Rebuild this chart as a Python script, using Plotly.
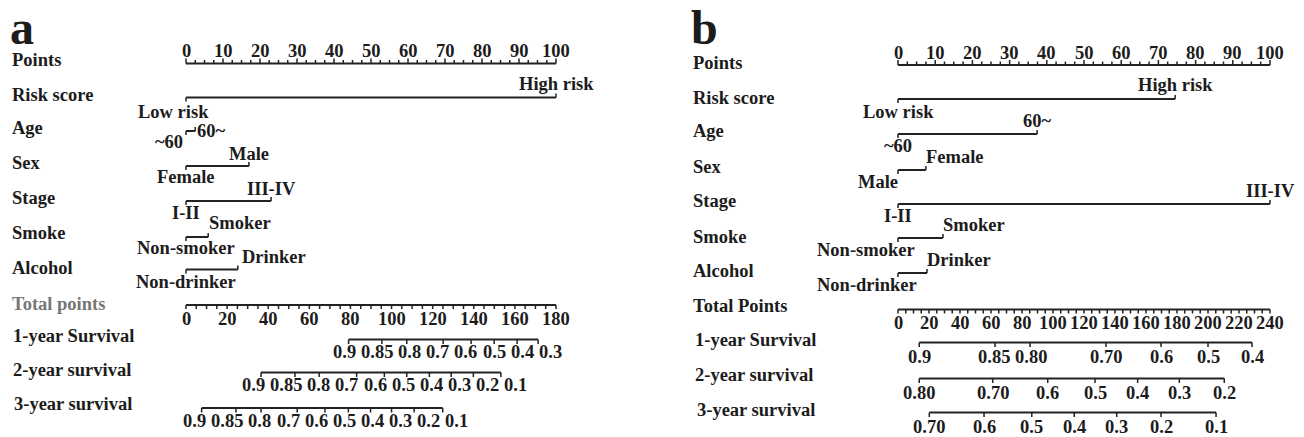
import numpy as np
import plotly.graph_objects as go

W, H = 1304, 437

# ---------------- panel a: data ----------------
A_VARS = ["Risk score", "Age", "Sex", "Stage", "Smoke", "Alcohol"]
A_LOW = ["Low risk", "~60", "Female", "I-II", "Non-smoker", "Non-drinker"]
A_HIGH = ["High risk", "60~", "Male", "III-IV", "Smoker", "Drinker"]
A_HIGH_POINTS = [100, 2.5, 17, 23, 6, 14]
A_TOTAL_MAX = 180
A_TOTAL_TICKS = list(range(0, 181, 20))
A_SURV_NAMES = ["1-year Survival", "2-year survival", "3-year survival"]
A_SURV1_PROB = ["0.9", "0.85", "0.8", "0.7", "0.6", "0.5", "0.4", "0.3"]
A_SURV1_TOTAL = [79.1, 95.3, 107.4, 125.1, 138.7, 149.9, 161.1, 171.3]
A_SURV2_PROB = ["0.9", "0.85", "0.8", "0.7", "0.6", "0.5", "0.4", "0.3", "0.2", "0.1"]
A_SURV2_TOTAL = [36.5, 53.0, 64.8, 83.0, 96.5, 107.4, 118.4, 129.0, 139.8, 153.2]
A_SURV3_PROB = ["0.9", "0.85", "0.8", "0.7", "0.6", "0.5", "0.4", "0.3", "0.2", "0.1"]
A_SURV3_TOTAL = [7.6, 24.3, 36.5, 54.1, 67.6, 79.0, 89.8, 100.0, 111.0, 124.9]

# ---------------- panel b: data ----------------
B_VARS = ["Risk score", "Age", "Sex", "Stage", "Smoke", "Alcohol"]
B_LOW = ["Low risk", "~60", "Male", "I-II", "Non-smoker", "Non-drinker"]
B_HIGH = ["High risk", "60~", "Female", "III-IV", "Smoker", "Drinker"]
B_HIGH_POINTS = [74.5, 37.4, 7.5, 100, 12.1, 7.8]
B_TOTAL_MAX = 240
B_TOTAL_TICKS = list(range(0, 241, 20))
B_SURV_NAMES = ["1-year Survival", "2-year survival", "3-year survival"]
B_SURV1_PROB = ["0.9", "0.85", "0.80", "0.70", "0.6", "0.5", "0.4"]
B_SURV1_TOTAL = [13.7, 62.6, 85.2, 134.2, 169.7, 200.0, 228.4]
B_SURV2_PROB = ["0.80", "0.70", "0.6", "0.5", "0.4", "0.3", "0.2"]
B_SURV2_TOTAL = [13.7, 61.1, 96.6, 127.1, 154.6, 181.5, 210.5]
B_SURV3_PROB = ["0.70", "0.6", "0.5", "0.4", "0.3", "0.2", "0.1"]
B_SURV3_TOTAL = [20.2, 55.5, 86.3, 113.7, 141.1, 169.7, 205.2]

POINTS_MAX = 100
POINTS_LABEL_STEP = 10
POINTS_MINOR_STEP = 2.5
TOTAL_MINOR_STEP = 5

# ---------------- styling ----------------
FONT = "Liberation Serif"
FS = 18.5
INK = "#1c1c1c"
GREY = "#777777"
PAD = 2  # annotation inner padding in px

# character widths (em) of a bold Times-like face, for label spacing
CW = {".": 0.25, "~": 0.52}


def text_width(s):
    return sum(CW.get(ch, 0.5) for ch in s) * FS


def spread(centers, widths, gap):
    """Place labels at their tick centres, pushing overlapping runs apart
    symmetrically so neighbouring labels keep a minimal gap."""
    clusters = []
    for i, (c, w) in enumerate(zip(centers, widths)):
        clusters.append([i, i, c - w / 2])
        while len(clusters) > 1:
            a, b = clusters[-2], clusters[-1]
            a_right = a[2] + sum(widths[a[0]:a[1] + 1]) + gap * (a[1] - a[0])
            if a_right + gap <= b[2]:
                break
            s, e = a[0], b[1]
            offs, x = [], 0.0
            for j in range(s, e + 1):
                offs.append(x + widths[j] / 2)
                x += widths[j] + gap
            left = float(np.mean([centers[j] - offs[j - s] for j in range(s, e + 1)]))
            clusters[-2:] = [[s, e, left]]
    pos = []
    for s, e, left in clusters:
        x = left
        for j in range(s, e + 1):
            pos.append(x + widths[j] / 2)
            x += widths[j] + gap
    return pos


PANELS = [
    dict(
        key="a", xaxis="x", yaxis="y", domain=[0.0, 0.5], px0=0, zero_px=186, full_px=556,
        letter_x=10, label_x=12,
        vars=A_VARS, low=A_LOW, high=A_HIGH, high_pts=A_HIGH_POINTS,
        total_max=A_TOTAL_MAX, total_ticks=A_TOTAL_TICKS, total_name="Total points",
        total_color=GREY,
        surv_names=A_SURV_NAMES,
        surv=[(A_SURV1_PROB, A_SURV1_TOTAL), (A_SURV2_PROB, A_SURV2_TOTAL),
              (A_SURV3_PROB, A_SURV3_TOTAL)],
        points_y=63.5, var_y=[97.5, 131, 166, 201, 237, 269.5],
        total_y=305, surv_y=[339.5, 372.5, 408],
        name_y=[60, 95, 128, 163, 197.5, 233, 267.5, 303.5, 336, 370, 404],
        name_dx=[0, 0, 0, 0, 0, 0, 0, 0, 0.5, 0.5, 1.5],
        low_anchor=["center", "right", "center", "center", "center", "center"],
        low_shift=[-13, -3, 0, 0, 0, 0],
        low_dy=[14, 11, 10.5, 11.5, 10.5, 12],
        high_anchor=["center", "left", "center", "center", "left", "left"],
        high_shift=[0, 2, 0, 0, 1, 4],
        high_dy=[-14, -0.5, -12, -12, -14, -13],
        surv_lab_dy=12.5,
    ),
    dict(
        key="b", xaxis="x2", yaxis="y2", domain=[0.5, 1.0], px0=652, zero_px=898, full_px=1270,
        letter_x=691, label_x=693,
        vars=B_VARS, low=B_LOW, high=B_HIGH, high_pts=B_HIGH_POINTS,
        total_max=B_TOTAL_MAX, total_ticks=B_TOTAL_TICKS, total_name="Total Points",
        total_color=INK,
        surv_names=B_SURV_NAMES,
        surv=[(B_SURV1_PROB, B_SURV1_TOTAL), (B_SURV2_PROB, B_SURV2_TOTAL),
              (B_SURV3_PROB, B_SURV3_TOTAL)],
        points_y=65, var_y=[99, 134, 170, 204, 238, 273],
        total_y=309.5, surv_y=[342.5, 378.5, 412.5],
        name_y=[62.5, 97.5, 130.5, 166.5, 201, 236.5, 271, 306, 340, 375, 409.5],
        name_dx=[0, 0, 0, 0, 0, 0, 0, 0, 2.5, 2.5, 3.5],
        low_anchor=["center", "center", "right", "center", "center", "center"],
        low_shift=[0, 0, 0, 0, -32, -31],
        low_dy=[13, 12, 12, 12, 12, 12],
        high_anchor=["center", "center", "left", "center", "left", "left"],
        high_shift=[0, 0, 0, 0, 0, 0],
        high_dy=[-14, -13, -13, -13, -13, -13],
        surv_lab_dy=14.5,
    ),
]

fig = go.Figure()
annotations = []
layout_axes = {}

for p in PANELS:
    scale = (p["full_px"] - p["zero_px"]) / POINTS_MAX  # px per point
    width_px = W * (p["domain"][1] - p["domain"][0])
    r0 = -(p["zero_px"] - p["px0"]) / scale
    r1 = r0 + width_px / scale
    xa = "xaxis" if p["xaxis"] == "x" else "xaxis2"
    ya = "yaxis" if p["yaxis"] == "y" else "yaxis2"
    layout_axes[xa] = dict(domain=p["domain"], range=[r0, r1], visible=False,
                           fixedrange=True, anchor=p["yaxis"])
    layout_axes[ya] = dict(domain=[0, 1], range=[H, 0], visible=False,
                           fixedrange=True, anchor=p["xaxis"])

    lines_x, lines_y = [], []
    ticks_x, ticks_y = [], []

    def seg(store_x, store_y, x0, y0, x1, y1):
        store_x += [x0, x1, None]
        store_y += [y0, y1, None]

    def ann(text, x, y, xanchor="center", yanchor="middle", color=INK, size=FS,
            xshift=0, xref=None):
        if xanchor == "left":
            xshift -= PAD
        elif xanchor == "right":
            xshift += PAD
        annotations.append(dict(
            text=f"<b>{text}</b>", x=x, y=y, xref=xref or p["xaxis"], yref=p["yaxis"],
            xanchor=xanchor, yanchor=yanchor, xshift=xshift, showarrow=False,
            font=dict(family=FONT, size=size, color=color)))

    # panel letter
    ann(p["key"], p["letter_x"] / W, 27, xanchor="left", size=48, xref="paper")

    # row names
    names = ["Points"] + p["vars"] + [p["total_name"]] + p["surv_names"]
    for i, (nm, ny) in enumerate(zip(names, p["name_y"])):
        col = p["total_color"] if nm == p["total_name"] else INK
        ann(nm, (p["label_x"] + p["name_dx"][i]) / W, ny, xanchor="left", color=col,
            xref="paper")

    # Points scale: line, ticks pointing up, labels above
    py = p["points_y"]
    seg(lines_x, lines_y, 0, py, POINTS_MAX, py)
    for v in np.arange(0, POINTS_MAX + 1e-9, POINTS_MINOR_STEP):
        major = abs(v / POINTS_LABEL_STEP - round(v / POINTS_LABEL_STEP)) < 1e-9
        seg(ticks_x, ticks_y, v, py, v, py - (5 if major else 3.5))
    for v in range(0, POINTS_MAX + 1, POINTS_LABEL_STEP):
        ann(str(v), v, py - 12.5)

    # categorical predictors: low level at 0 (tick down, label below),
    # high level at its points (tick up, label above)
    for i, vy in enumerate(p["var_y"]):
        hp = p["high_pts"][i]
        seg(lines_x, lines_y, 0, vy, hp, vy)
        seg(ticks_x, ticks_y, 0, vy, 0, vy + 4)
        seg(ticks_x, ticks_y, hp, vy, hp, vy - 4)
        ann(p["low"][i], 0, vy + p["low_dy"][i], xanchor=p["low_anchor"][i],
            xshift=p["low_shift"][i])
        ann(p["high"][i], hp, vy + p["high_dy"][i], xanchor=p["high_anchor"][i],
            xshift=p["high_shift"][i])

    # Total points scale (mapped onto the points axis)
    tf = POINTS_MAX / p["total_max"]
    ty = p["total_y"]
    seg(lines_x, lines_y, 0, ty, p["total_max"] * tf, ty)
    for v in np.arange(0, p["total_max"] + 1e-9, TOTAL_MINOR_STEP):
        seg(ticks_x, ticks_y, v * tf, ty, v * tf, ty + 4)
    for v in p["total_ticks"]:
        ann(str(v), v * tf, ty + 13.5)

    # survival probability scales
    for (probs, totals), sy in zip(p["surv"], p["surv_y"]):
        xs = [t * tf for t in totals]
        seg(lines_x, lines_y, xs[0], sy, xs[-1], sy)
        for x in xs:
            seg(ticks_x, ticks_y, x, sy, x, sy + 4.5)
        widths = [text_width(s) / scale for s in probs]
        pos = spread(xs, widths, 5 / scale)
        for s, x in zip(probs, pos):
            ann(s, x, sy + p["surv_lab_dy"])

    fig.add_trace(go.Scatter(x=lines_x, y=lines_y, mode="lines", xaxis=p["xaxis"],
                             yaxis=p["yaxis"], line=dict(color="#222222", width=2),
                             hoverinfo="skip", showlegend=False))
    fig.add_trace(go.Scatter(x=ticks_x, y=ticks_y, mode="lines", xaxis=p["xaxis"],
                             yaxis=p["yaxis"], line=dict(color="#222222", width=1.5),
                             hoverinfo="skip", showlegend=False))

fig.update_layout(
    width=W, height=H, autosize=False,
    margin=dict(l=0, r=0, t=0, b=0),
    paper_bgcolor="white", plot_bgcolor="white",
    showlegend=False,
    annotations=annotations,
    **layout_axes,
)

fig.write_html("out.html", config={"displayModeBar": False})
